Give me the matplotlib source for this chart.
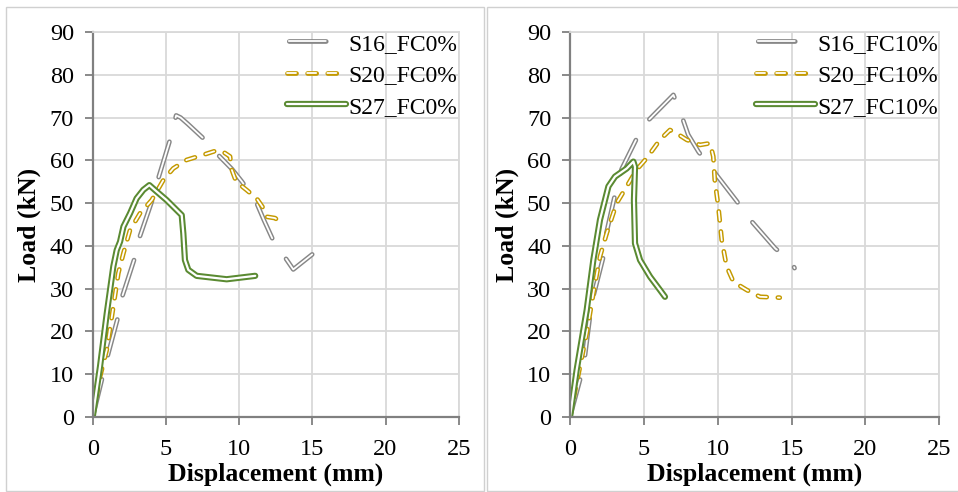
import matplotlib
matplotlib.use('Agg')
import matplotlib.pyplot as plt
import matplotlib.patheffects as pe
from matplotlib.patches import Rectangle

plt.rcParams['font.family'] = ['Liberation Serif', 'DejaVu Serif']
plt.rcParams['lines.scale_dashes'] = False

# ---- data ----
# left panel: FC0%
s16_fc0_x = [0, 0.5, 1.0, 1.7, 2.0, 2.9, 3.2, 4.1, 4.5, 5.3, 5.7, 6.0, 6.5, 7.6, 8.5, 9.5, 10.2, 10.4, 11.2, 11.7, 12.3, 13.1, 13.7, 15.1]
s16_fc0_y = [0, 7, 14, 23, 28, 37.5, 42, 51, 56, 65, 70.5, 70, 68.5, 65, 61.5, 58, 55, 54, 50, 46, 41.5, 37.5, 34.5, 38.3]
s20_fc0_x = [0, 0.5, 0.96, 1.41, 1.75, 2.1, 2.55, 3.23, 4.03, 4.83, 5.5, 6.42, 7.56, 8.47, 8.9, 9.38, 9.5, 9.8, 10.5, 11.2, 11.66, 11.9, 12.45, 12.9]
s20_fc0_y = [0, 9.4, 15.7, 25.8, 33.6, 38.3, 43.7, 47.6, 50.7, 55.4, 58.1, 60.1, 61.3, 62.3, 62.0, 60.9, 57.8, 55.0, 53.1, 51.1, 48.8, 46.8, 46.5, 45.4]
s27_fc0_x = [0, 0.5, 0.96, 1.41, 1.64, 1.87, 2.1, 2.55, 3.0, 3.46, 3.87, 4.37, 5.05, 6.08, 6.19, 6.3, 6.53, 7.1, 9.15, 11.1]
s27_fc0_y = [0, 11.8, 24.2, 35.2, 39, 41, 44.5, 47.6, 51.1, 53.1, 54.2, 52.7, 50.7, 47.2, 42.9, 36.7, 34.4, 33.0, 32.2, 33.0]

# right panel: FC10%
s16_fc10_x = [0, 0.7, 1.0, 1.35, 1.6, 2.3, 2.4, 3.05, 3.5, 4.5, 5.2, 7.0, 7.6, 8.0, 8.7, 9.6, 11.3, 12.1, 13.9, 15.0, 15.2]
s16_fc10_y = [0, 9, 14, 23.5, 28.5, 38, 42, 52, 58, 65, 69, 75.3, 70, 66, 62, 58, 50.4, 46.5, 39.4, 36.3, 34.8]
s20_fc10_x = [0, 0.45, 1.13, 1.58, 2.03, 2.48, 3.16, 3.84, 4.51, 5.19, 6.09, 6.77, 7.22, 7.9, 8.8, 9.48, 9.7, 9.8, 10.04, 10.27, 10.6, 11.06, 11.96, 12.86, 14.2]
s20_fc10_y = [0, 7.9, 19.6, 28.9, 37.5, 42.9, 50, 53.9, 57.8, 60.5, 64.8, 67.1, 66.3, 64.8, 63.6, 64, 60.9, 55.4, 49.2, 41.4, 35.2, 31.6, 29.7, 28.1, 27.9]
s27_fc10_x = [0, 0.45, 1.13, 1.58, 2.03, 2.6, 3.05, 3.84, 4.29, 4.4, 4.33, 4.4, 4.74, 5.42, 6.09, 6.43]
s27_fc10_y = [0, 11, 25, 36.7, 46.1, 53.9, 56.2, 58.1, 59.7, 58.5, 50.7, 40.6, 36.7, 32.8, 29.7, 28.1]

x_ticks = [0, 5, 10, 15, 20, 25]
y_ticks = [0, 10, 20, 30, 40, 50, 60, 70, 80, 90]

gray = '#878787'
gold = '#c49a00'
green = '#5a8a32'
grid_col = '#d9d9d9'

# dash patterns in points: (offset, (on, off))
long_dash = (43.2, (26.6, 17.9))
short_dash = (0, (6.5, 8))


def hollow_line(ax, x, y, color, outer, inner, ls, label):
    ax.plot(x, y, color='white', lw=inner, ls=ls, label=label,
            solid_capstyle='round', dash_capstyle='round', solid_joinstyle='round',
            dash_joinstyle='round',
            path_effects=[pe.Stroke(linewidth=outer, foreground=color), pe.Normal()])


def style_axes(ax):
    ax.set_xlim(0, 25)
    ax.set_ylim(0, 90)
    ax.set_xticks(x_ticks)
    ax.set_yticks(y_ticks)
    ax.grid(True, color=grid_col, lw=1.3)
    ax.set_axisbelow(True)
    for s in ['top', 'right']:
        ax.spines[s].set_color(grid_col)
        ax.spines[s].set_linewidth(1.3)
    for s in ['left', 'bottom']:
        ax.spines[s].set_color('#808080')
        ax.spines[s].set_linewidth(1.6)
    ax.tick_params(axis='both', direction='out', length=5.5, width=1.3, color='#808080', labelsize=17.5)
    ax.tick_params(axis='y', pad=8)
    ax.tick_params(axis='x', pad=10)
    ax.set_xlabel('Displacement (mm)', fontsize=18.5, fontweight='bold', labelpad=2)
    ax.set_ylabel('Load (kN)', fontsize=18.5, fontweight='bold', labelpad=6)


fig = plt.figure(figsize=(9.58, 4.92), dpi=100)

# panel frames
fig.patches.append(Rectangle((6 / 958, 1 / 492), 478 / 958, 484 / 492, transform=fig.transFigure,
                             fill=False, ec='#d0d0d0', lw=1))
fig.patches.append(Rectangle((487 / 958, 1 / 492), 480 / 958, 484 / 492, transform=fig.transFigure,
                             fill=False, ec='#d0d0d0', lw=1))

ax1 = fig.add_axes([92.7 / 958, 75 / 492, 366 / 958, 385 / 492])
ax2 = fig.add_axes([570 / 958, 75 / 492, 369.3 / 958, 385 / 492])

hollow_line(ax1, s16_fc0_x, s16_fc0_y, gray, 3.4, 1.3, long_dash, 'S16_FC0%')
hollow_line(ax1, s20_fc0_x, s20_fc0_y, gold, 3.4, 1.3, short_dash, 'S20_FC0%')
hollow_line(ax1, s27_fc0_x, s27_fc0_y, green, 4.5, 1.6, '-', 'S27_FC0%')

hollow_line(ax2, s16_fc10_x, s16_fc10_y, gray, 3.4, 1.3, long_dash, 'S16_FC10%')
hollow_line(ax2, s20_fc10_x, s20_fc10_y, gold, 3.4, 1.3, short_dash, 'S20_FC10%')
hollow_line(ax2, s27_fc10_x, s27_fc10_y, green, 4.5, 1.6, '-', 'S27_FC10%')

for ax in (ax1, ax2):
    style_axes(ax)
    ax.legend(loc='upper right', frameon=False, fontsize=17, handlelength=2.5,
              handletextpad=0.1, labelspacing=0.42, borderaxespad=0.0, borderpad=0.05)

fig.savefig('out.png', dpi=100)
